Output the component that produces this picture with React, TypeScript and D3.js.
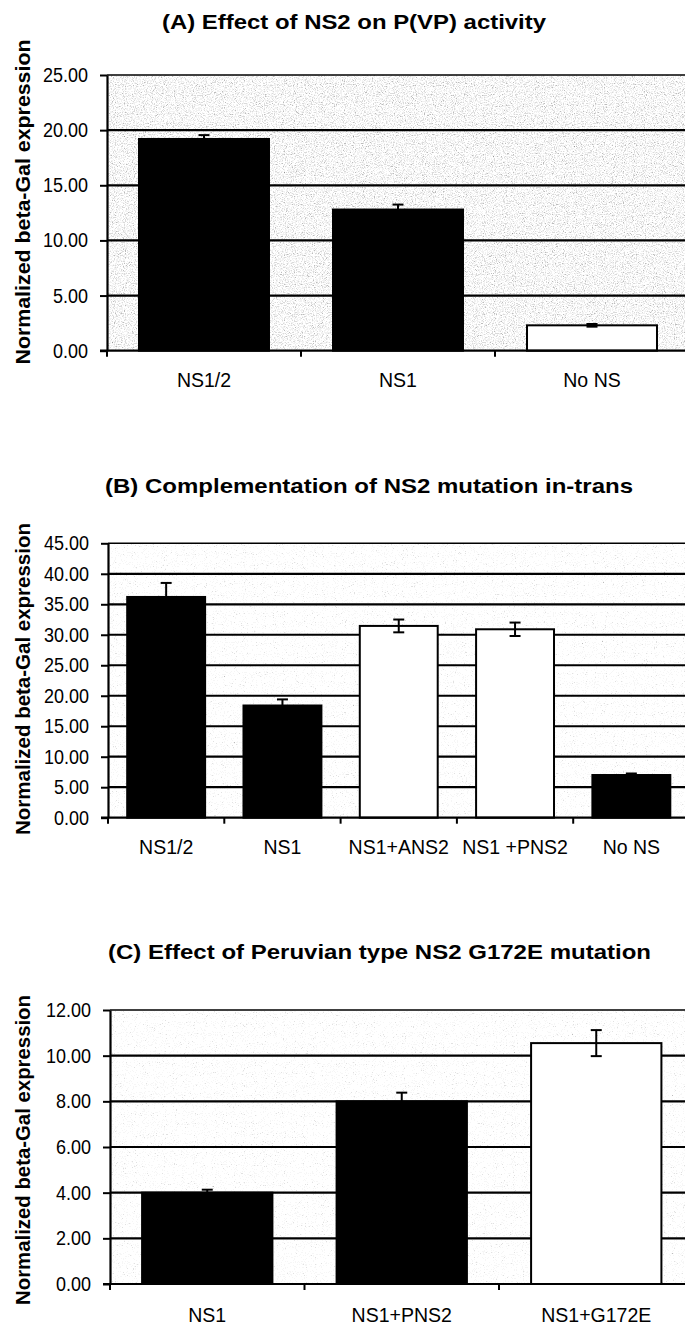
import React, { useEffect, useRef } from "react";
import * as d3 from "d3";

// ---- data ----
const yLabel = "Normalized beta-Gal expression";

const titleA = "(A)  Effect of NS2 on P(VP) activity";
const catsA = ["NS1/2", "NS1", "No NS"];
const valsA = [19.2, 12.8, 2.3];
const errA = [0.35, 0.45, 0.12];
const ticksA = [0, 5, 10, 15, 20, 25];

const titleB = "(B)  Complementation of NS2 mutation in-trans";
const catsB = ["NS1/2", "NS1", "NS1+ANS2", "NS1 +PNS2", "No NS"];
const valsB = [36.2, 18.4, 31.45, 30.9, 7.0];
const errB = [2.3, 1.0, 1.05, 1.1, 0.25];
const ticksB = [0, 5, 10, 15, 20, 25, 30, 35, 40, 45];

const titleC = "(C)  Effect of Peruvian type NS2 G172E mutation";
const catsC = ["NS1", "NS1+PNS2", "NS1+G172E"];
const valsC = [4.0, 8.0, 10.55];
const errC = [0.13, 0.38, 0.57];
const ticksC = [0, 2, 4, 6, 8, 10, 12];

// bar fills (style, kept apart from the values)
const fillsA = ["#000", "#000", "#fff"];
const fillsB = ["#000", "#000", "#fff", "#fff", "#000"];
const fillsC = ["#000", "#000", "#fff"];

const FONT = "'Liberation Sans', Arial, Helvetica, sans-serif";
const fmt = d3.format(".2f");

type Panel = {
  title: string;
  cats: string[];
  vals: number[];
  errs: number[];
  fills: string[];
  ticks: number[];
  left: number;
  right: number;
  top: number;
  bottom: number;
  titleX: number;
  titleY: number;
  titleLen: number;
  labelMid: number;
  labelLen: number;
  catDy: number;
  speck: string;
};

const panels: Panel[] = [
  {
    title: titleA, cats: catsA, vals: valsA, errs: errA, fills: fillsA, ticks: ticksA,
    left: 107, right: 689, top: 75, bottom: 350.7,
    titleX: 354, titleY: 29, titleLen: 384, labelMid: 202, labelLen: 325, catDy: 36.5, speck: "speckA",
  },
  {
    title: titleB, cats: catsB, vals: valsB, errs: errB, fills: fillsB, ticks: ticksB,
    left: 108, right: 689.5, top: 543.3, bottom: 817.7,
    titleX: 369, titleY: 493, titleLen: 528, labelMid: 679, labelLen: 312, catDy: 36.5, speck: "speckB",
  },
  {
    title: titleC, cats: catsC, vals: valsC, errs: errC, fills: fillsC, ticks: ticksC,
    left: 110, right: 693.5, top: 1010, bottom: 1284,
    titleX: 379.5, titleY: 959, titleLen: 543, labelMid: 1150, labelLen: 310, catDy: 38, speck: "speckB",
  },
];

function addSpeckle(defs: any, id: string, table: string) {
  const f = defs.append("filter").attr("id", id)
    .attr("x", 0).attr("y", 0).attr("width", 1).attr("height", 1);
  f.append("feTurbulence").attr("type", "fractalNoise").attr("baseFrequency", 0.9)
    .attr("numOctaves", 2).attr("seed", 5).attr("result", "n");
  f.append("feColorMatrix").attr("in", "n").attr("type", "matrix")
    .attr("values", "0 0 0 0 0  0 0 0 0 0  0 0 0 0 0  1 0 0 0 0").attr("result", "a");
  f.append("feComponentTransfer").attr("in", "a").attr("result", "dots")
    .append("feFuncA").attr("type", "discrete").attr("tableValues", table);
  f.append("feFlood").attr("flood-color", "#ffffff").attr("result", "bg");
  f.append("feComposite").attr("in", "dots").attr("in2", "bg").attr("operator", "over");
}

function drawPanel(root: any, p: Panel) {
  const g = root.append("g");
  const max = d3.max(p.ticks) as number;
  const x = d3.scaleBand<string>().domain(p.cats).range([p.left, p.right])
    .paddingInner(0.33).paddingOuter(0.165);
  const y = d3.scaleLinear().domain([0, max]).range([p.bottom, p.top]);

  // title
  g.append("text")
    .attr("x", p.titleX).attr("y", p.titleY)
    .attr("text-anchor", "middle")
    .attr("font-family", FONT).attr("font-weight", "bold").attr("font-size", 20.5)
    .attr("textLength", p.titleLen).attr("lengthAdjust", "spacingAndGlyphs")
    .text(p.title);

  // plot background
  g.append("rect")
    .attr("x", p.left).attr("y", y(max))
    .attr("width", p.right - p.left).attr("height", y(0) - y(max))
    .attr("fill", "#fff").attr("filter", `url(#${p.speck})`);

  // gridlines
  g.append("g").selectAll("line")
    .data(p.ticks.filter((t) => t > 0))
    .join("line")
    .attr("x1", p.left).attr("x2", p.right)
    .attr("y1", (d: number) => y(d)).attr("y2", (d: number) => y(d))
    .attr("stroke", "#000")
    .attr("stroke-width", (d: number) => (d === max ? 1.4 : 2.2));

  // bars
  g.append("g").selectAll("rect")
    .data(p.cats)
    .join("rect")
    .attr("x", (d: string) => x(d))
    .attr("width", x.bandwidth())
    .attr("y", (_: string, i: number) => y(p.vals[i]))
    .attr("height", (_: string, i: number) => y(0) - y(p.vals[i]))
    .attr("fill", (_: string, i: number) => p.fills[i])
    .attr("stroke", "#000").attr("stroke-width", 2);

  // error bars
  const eb = g.append("g").attr("stroke", "#000").attr("stroke-width", 2);
  p.cats.forEach((c, i) => {
    const cx = (x(c) as number) + x.bandwidth() / 2;
    const hi = y(p.vals[i] + p.errs[i]);
    const lo = y(p.vals[i] - p.errs[i]);
    eb.append("line").attr("x1", cx).attr("x2", cx).attr("y1", hi).attr("y2", lo);
    eb.append("line").attr("x1", cx - 5.5).attr("x2", cx + 5.5).attr("y1", hi).attr("y2", hi);
    eb.append("line").attr("x1", cx - 5.5).attr("x2", cx + 5.5).attr("y1", lo).attr("y2", lo);
  });

  // y axis
  const ya = g.append("g").attr("transform", `translate(${p.left},0)`)
    .call(d3.axisLeft(y).tickValues(p.ticks).tickFormat((d: any) => fmt(d))
      .tickSize(7).tickSizeOuter(0).tickPadding(12));
  ya.select(".domain").attr("stroke", "#000").attr("stroke-width", 2.2);
  ya.selectAll(".tick line").attr("stroke", "#000").attr("stroke-width", 2);
  ya.selectAll(".tick text")
    .attr("font-family", FONT).attr("font-size", 18).attr("fill", "#000")
    .attr("transform", "scale(1,1.12)");

  // x axis line + category boundary ticks
  const step = x.step();
  const bounds = p.cats.map((c) => (x(c) as number) - (step - x.bandwidth()) / 2);
  g.append("line").attr("x1", p.left - 7).attr("x2", p.right)
    .attr("y1", y(0)).attr("y2", y(0))
    .attr("stroke", "#000").attr("stroke-width", 2.2);
  g.append("g").selectAll("line")
    .data(bounds)
    .join("line")
    .attr("x1", (d: number) => d).attr("x2", (d: number) => d)
    .attr("y1", y(0)).attr("y2", y(0) + 6)
    .attr("stroke", "#000").attr("stroke-width", 2);

  // category labels
  g.append("g").selectAll("text")
    .data(p.cats)
    .join("text")
    .attr("x", (d: string) => (x(d) as number) + x.bandwidth() / 2)
    .attr("y", y(0) + p.catDy)
    .attr("text-anchor", "middle")
    .attr("font-family", FONT).attr("font-size", 19.5).attr("fill", "#000")
    .text((d: string) => d);

  // rotated y label
  g.append("text")
    .attr("transform", `translate(30,${p.labelMid}) rotate(-90)`)
    .attr("text-anchor", "middle")
    .attr("font-family", FONT).attr("font-weight", "bold").attr("font-size", 20)
    .attr("textLength", p.labelLen).attr("lengthAdjust", "spacingAndGlyphs")
    .text(yLabel);
}

export default function App() {
  const ref = useRef<SVGSVGElement>(null);

  useEffect(() => {
    const svg = d3.select(ref.current);
    svg.selectAll("*").remove();
    const defs = svg.append("defs");
    addSpeckle(defs, "speckA", "0 0 0 0 0.12 0.3 0.5 0.7");
    addSpeckle(defs, "speckB", "0 0 0 0 0 0.08 0.25 0.5");
    panels.forEach((p) => drawPanel(svg, p));
  }, []);

  return (
    <svg
      ref={ref}
      width={685}
      height={1325}
      style={{ position: "absolute", left: 0, top: 0, display: "block", background: "#fff" }}
    />
  );
}
